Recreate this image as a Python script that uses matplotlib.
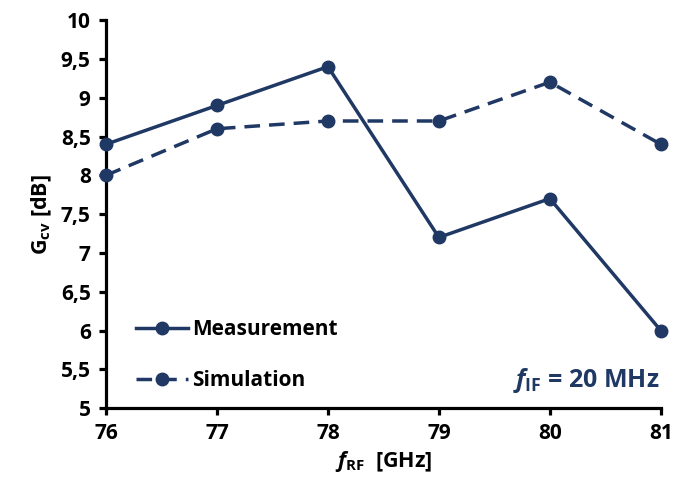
import matplotlib.pyplot as plt
import numpy as np

plt.rcParams['font.family'] = 'Open Sans'
plt.rcParams['font.weight'] = 'bold'
plt.rcParams['axes.labelweight'] = 'bold'
plt.rcParams['mathtext.fontset'] = 'custom'
plt.rcParams['mathtext.rm'] = 'Open Sans:bold'
plt.rcParams['mathtext.it'] = 'Open Sans:bold:italic'
plt.rcParams['mathtext.bf'] = 'Open Sans:bold'

freq = [76, 77, 78, 79, 80, 81]
measurement = [8.4, 8.9, 9.4, 7.2, 7.7, 6.0]
simulation = [8.0, 8.6, 8.7, 8.7, 9.2, 8.4]
yticks = [5, 5.5, 6, 6.5, 7, 7.5, 8, 8.5, 9, 9.5, 10]

navy = '#203864'

fig = plt.figure(figsize=(6.75, 4.9), dpi=100)
ax = fig.add_axes([0.157, 0.167, 0.822, 0.792])

ax.plot(freq, measurement, '-o', color=navy, lw=2.5, ms=9, label='Measurement', clip_on=False, zorder=3)
ax.plot(freq, simulation, '--o', color=navy, lw=2.5, ms=9, dashes=(4.5, 2.6), label='Simulation', clip_on=False, zorder=3)

ax.set_xlim(76, 81)
ax.set_ylim(5, 10)
ax.set_xticks(freq)
ax.set_yticks(yticks)
ax.set_yticklabels([('%g' % v).replace('.', ',') for v in yticks])

for s in ['top', 'right']:
    ax.spines[s].set_visible(False)
for s in ['left', 'bottom']:
    ax.spines[s].set_linewidth(2.3)
ax.tick_params(direction='out', length=5, width=2.3, labelsize=15, pad=6)
for lab in ax.get_xticklabels() + ax.get_yticklabels():
    lab.set_fontweight('bold')

ax.set_xlabel(r'$f_{\rm RF}$  [GHz]', fontsize=15.5, labelpad=3, fontweight='bold')
ax.set_ylabel(r'G$_{\rm cv}$ [dB]', fontsize=15.5, labelpad=5, fontweight='bold')

ax.text(0.998, 0.035, r'$f_{\rm IF}$ = 20 MHz', transform=ax.transAxes, ha='right', va='bottom',
        fontsize=18, color=navy, fontweight='bold')

leg = ax.legend(loc='lower left', bbox_to_anchor=(0.02, -0.005), frameon=False, fontsize=15,
                handlelength=2.5, handletextpad=0.2, labelspacing=1.45)
for t in leg.get_texts():
    t.set_fontweight('bold')

plt.savefig('out.png')
